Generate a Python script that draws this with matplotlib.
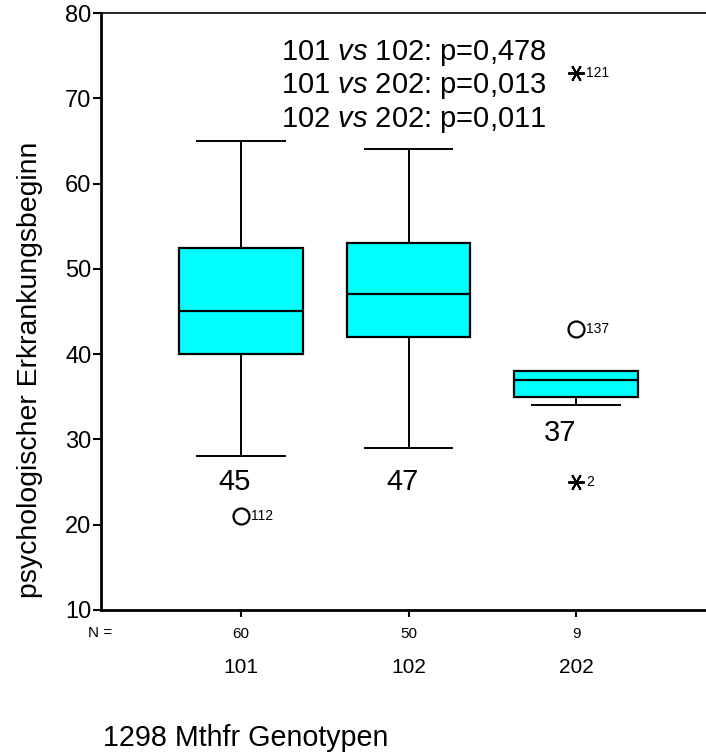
import matplotlib
matplotlib.use("Agg")
import matplotlib.pyplot as plt

plt.rcParams['font.family'] = ['Liberation Sans', 'DejaVu Sans']
plt.rcParams['mathtext.fontset'] = 'custom'
plt.rcParams['mathtext.rm'] = 'Liberation Sans'
plt.rcParams['mathtext.it'] = 'Liberation Sans:italic'

# data
genotypes = ['101', '102', '202']
n_counts = ['60', '50', '9']
whis_lo = [28, 29, 34]
q1 = [40, 42, 35]
medians = [45, 47, 37]
q3 = [52.5, 53, 38]
whis_hi = [65, 64, 38]
median_labels = ['45', '47', '37']
median_label_y = [25, 25, 30.7]

# outliers: group index (1-based), value, case number, kind
out_group = [1, 3, 3, 3]
out_value = [21, 43, 25, 73]
out_case = ['112', '137', '2', '121']
out_kind = ['o', 'o', '*', '*']

p_lines = [('101', '102', '0,478'), ('101', '202', '0,013'), ('102', '202', '0,011')]

W, H = 706, 755
fig = plt.figure(figsize=(W / 100, H / 100), dpi=100)
ax = fig.add_axes([101 / W, 1 - 610 / H, 1 - 101 / W, (610 - 13) / H])

positions = [1, 2, 3]
stats = []
for i in range(len(genotypes)):
    stats.append({'whislo': whis_lo[i], 'q1': q1[i], 'med': medians[i],
                  'q3': q3[i], 'whishi': whis_hi[i], 'fliers': []})

ax.bxp(stats, positions=positions, widths=0.74, capwidths=0.525,
       patch_artist=True, showfliers=False,
       boxprops=dict(facecolor='#00ffff', edgecolor='black', linewidth=1.6),
       medianprops=dict(color='black', linewidth=1.6),
       whiskerprops=dict(color='black', linewidth=1.4),
       capprops=dict(color='black', linewidth=1.4))

# outliers with case numbers
for g, v, c, k in zip(out_group, out_value, out_case, out_kind):
    if k == 'o':
        ax.plot(g, v, marker='o', ms=11.5, mfc='white', mec='black', mew=1.6, ls='none', zorder=4)
    else:
        ax.plot(g, v, marker=(6, 2, 30), ms=12, mec='black', mew=1.4, ls='none', zorder=4)
    ax.annotate(c, (g, v), xytext=(7.5, 0), textcoords='offset points',
                ha='left', va='center', fontsize=10)

# big numbers under the boxes
for i, lab in enumerate(median_labels):
    xoff = [-0.036, -0.036, -0.095][i]
    ax.text(positions[i] + xoff, median_label_y[i], lab, ha='center', va='center', fontsize=21)

# p-values
p_y = [74.49, 70.6, 66.67]
for (a, b, p), y in zip(p_lines, p_y):
    ax.text(1.239, y, a + ' $vs$ ' + b + ': p=' + p, ha='left', va='baseline', fontsize=21)

ax.set_ylim(10, 80)
ax.set_xlim(0.164, 3.776)
ax.set_yticks([10, 20, 30, 40, 50, 60, 70, 80])
ax.tick_params(axis='y', labelsize=17, length=6, width=1.5, pad=1)
ax.set_xticks(positions)
ax.set_xticklabels(n_counts, fontsize=11)
ax.tick_params(axis='x', length=5, width=1.5, pad=7)

ax.spines['right'].set_visible(False)
ax.spines['left'].set_linewidth(2)
ax.spines['bottom'].set_linewidth(2)
ax.spines['top'].set_linewidth(1.2)

# N = and genotype names under the axis
fig.text(100 / W, 1 - 637 / H, 'N =', ha='center', va='baseline', fontsize=11)
for i, g in enumerate(genotypes):
    ax.text(positions[i], -0.106, g, transform=ax.get_xaxis_transform(),
            ha='center', va='baseline', fontsize=15)

fig.text(30 / W, 1 - 370 / H, 'psychologischer Erkrankungsbeginn', rotation=90,
         ha='center', va='center', fontsize=20.4)
fig.text(103 / W, 1 - 746 / H, '1298 Mthfr Genotypen', ha='left', va='baseline', fontsize=20.6)

fig.savefig('out.png', dpi=100)
